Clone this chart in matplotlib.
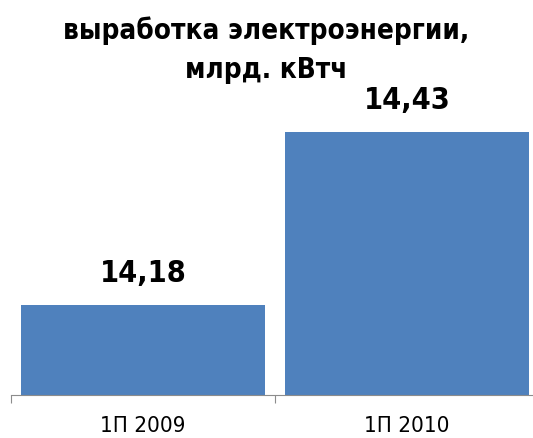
import matplotlib
matplotlib.use("Agg")
import matplotlib.pyplot as plt

# data
periods = ["1П 2009", "1П 2010"]
output_bn_kwh = [14.18, 14.43]
value_labels = ["14,18", "14,43"]
title = "выработка электроэнергии,\nмлрд. кВтч"

plt.rcParams['font.family'] = ['DejaVu Sans']
plt.rcParams['font.stretch'] = 'condensed'

W, H = 533, 438
fig = plt.figure(figsize=(W / 100, H / 100), dpi=100)
# axes run a little past the right edge, like the source slide
ax = fig.add_axes([11 / W, (H - 395) / H, 528 / W, 295 / H])

x = range(len(periods))
bars = ax.bar(x, output_bn_kwh, width=0.925, color="#4F81BD", zorder=2)
ax.set_xlim(-0.5, 1.5)
ax.set_ylim(14.05, 14.476)

for b, lab in zip(bars, value_labels):
    ax.annotate(lab, (b.get_x() + b.get_width() / 2, b.get_height()),
                xytext=(0, 17), textcoords="offset pixels",
                ha="center", va="bottom", fontsize=22, fontweight="bold",
                stretch="condensed")

for s in ["top", "right", "left"]:
    ax.spines[s].set_visible(False)
ax.spines["bottom"].set_color("#8c8c8c")
ax.set_yticks([])
ax.set_xticks([-0.5, 0.5, 1.5])
ax.set_xticklabels([])
ax.tick_params(axis="x", length=6, color="#8c8c8c", direction="out")
ax.set_xticks(list(x), minor=True)
ax.set_xticklabels(periods, minor=True, fontsize=16, stretch="condensed")
ax.tick_params(axis="x", which="minor", length=0, pad=15)

fig.text(0.5, 0.962, title, ha="center", va="top", fontsize=20,
         fontweight="bold", linespacing=1.5, stretch="condensed")

fig.savefig("out.png", dpi=100)
